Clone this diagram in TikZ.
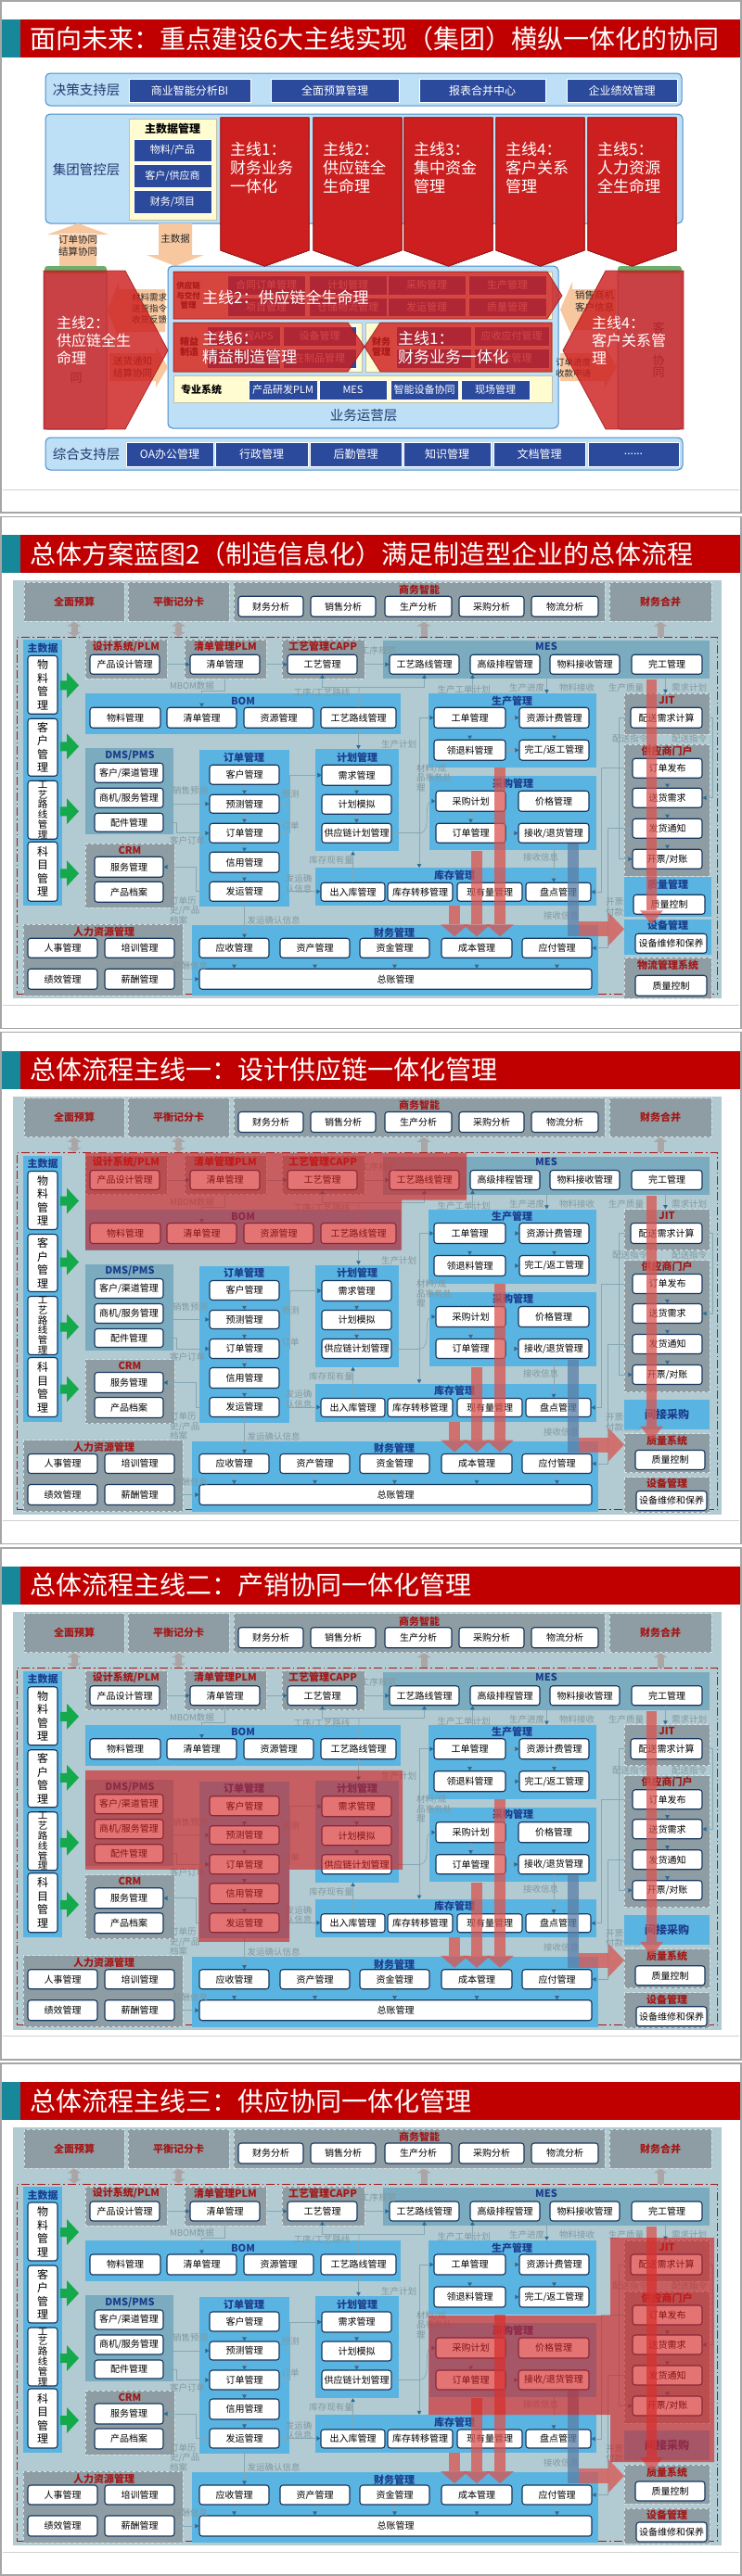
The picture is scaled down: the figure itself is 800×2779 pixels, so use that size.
\documentclass[tikz,border=0pt]{standalone}
\usepackage{fontspec}
\setmainfont{Noto Sans CJK SC}
\usetikzlibrary{arrows.meta}

% colours
\definecolor{tbred}{HTML}{C00000}
\definecolor{tbteal}{HTML}{17889A}
\definecolor{bpbg}{HTML}{B2CBD2}
\definecolor{pgray}{HTML}{8E9DA3}
\definecolor{pblue}{HTML}{5AB4E1}
\definecolor{pteal}{HTML}{7AABBE}
\definecolor{navy}{HTML}{17375E}
\definecolor{hblue}{HTML}{1B3C8C}
\definecolor{hred}{HTML}{A31616}
\definecolor{lbgray}{HTML}{82979F}
\definecolor{lnk}{HTML}{86A7B3}
\definecolor{ahd}{HTML}{2A6A96}
\definecolor{gblkc}{HTML}{ABA5A6}
\definecolor{grn}{HTML}{14A94A}
\definecolor{redband}{HTML}{D9534F}
\definecolor{blueband}{HTML}{5A7EA7}
\definecolor{hlred}{HTML}{D41E1E}
\definecolor{lyfill}{HTML}{BEE0F6}
\definecolor{lyline}{HTML}{4A8CC9}
\definecolor{lytext}{HTML}{1F3A70}
\definecolor{dkb}{HTML}{2C4A9C}
\definecolor{yel}{HTML}{FFFCD2}
\definecolor{peach}{HTML}{F7C8A0}
\definecolor{ovr}{HTML}{CD1F1F}
\definecolor{grtop}{HTML}{6DAE6D}

\tikzset{
  slideframe/.style={draw=black!35, line width=1.5pt},
  footline/.style={draw=black!18, line width=1pt},
  ttl/.style={anchor=west, inner sep=0pt, text=white, font=\fontsize{28}{30}\selectfont},
  wbox/.style={draw=navy, line width=1.1pt, fill=white, rounded corners=3pt, inner sep=0pt, font=\fontsize{10}{11}\selectfont},
  vbox/.style={wbox, align=center, font=\fontsize{12}{14.5}\selectfont},
  panel/.style={fill=pblue, inner sep=0pt},
  tpanel/.style={fill=pteal, inner sep=0pt},
  gpanel/.style={fill=pgray, draw=white!70!pgray, dashed, line width=.8pt, inner sep=0pt},
  mainb/.style={draw=hred, line width=1pt, dash pattern=on 9pt off 3pt on 1.5pt off 3pt, inner sep=0pt},
  hdblue/.style={font=\bfseries\fontsize{11}{12}\selectfont, text=hblue, inner sep=0pt},
  hdred/.style={font=\bfseries\fontsize{11}{12}\selectfont, text=hred, inner sep=0pt},
  lbl/.style={font=\fontsize{9.5}{10.5}\selectfont, text=lbgray, inner sep=0pt, align=center},
  link/.style={draw=lnk, line width=.7pt, -{Triangle[length=4pt,width=4.5pt,color=ahd]}},
  link0/.style={draw=lnk, line width=.7pt},
  gblk/.style={draw=gblkc, line width=7pt},
  bandr/.style={fill=redband, fill opacity=.75},
  bandb/.style={fill=blueband, fill opacity=.75},
  hlt/.style={fill=hlred, fill opacity=.62},
  % slide 1
  lyr/.style={fill=lyfill, draw=lyline, line width=1pt, rounded corners=5pt, inner sep=0pt},
  lylbl/.style={font=\fontsize{14.5}{15}\selectfont, text=lytext, inner sep=0pt},
  dbox/.style={fill=dkb, draw=white, line width=.5pt, text=white, inner sep=0pt, font=\fontsize{11}{12}\selectfont},
  ypan/.style={fill=yel, draw=yel!50!gray, line width=.6pt, inner sep=0pt},
  hdk/.style={font=\bfseries\fontsize{12}{13}\selectfont, text=black, inner sep=0pt},
  ptxt/.style={font=\fontsize{10.5}{13}\selectfont, text=black!85, align=center, inner sep=0pt},
  ovl/.style={fill=ovr, fill opacity=.82, draw=ovr!75!black, draw opacity=.8, line width=.8pt},
  bigw/.style={text=white, font=\fontsize{17}{20}\selectfont, align=left, anchor=north west, inner sep=0pt}
}

% box from corner (#3,#4) to corner (#5,#6)
\newcommand{\bx}[7][wbox]{\node[#1, minimum width={(#5-#3)*1pt}, minimum height={(#6-#4)*1pt}] (#2) at ({(#3+#5)/2},{(#4+#6)/2}) {#7};}
\newcommand{\garr}[1]{\fill[grn] (65,#1-5) -- (72,#1-5) -- (72,#1-14) -- (85,#1) -- (72,#1+14) -- (72,#1+5) -- (65,#1+5) -- cycle;}
\newcommand{\slidetop}[3]{%
  \draw[slideframe] (1,#2+1) rectangle (799,#2+553);
  \draw[footline] (3,#2+528) -- (797,#2+528);
  \fill[tbteal] (2,#2+21) rectangle (22,#2+62);
  \fill[tbred] (22,#2+21) rectangle (798,#2+62);
  \node[ttl] (#1) at (32,#2+41.5) {#3};}

% the blueprint, same on slides 2-5
\newcommand{\bpcommon}{%
  \fill[bpbg] (14,49) rectangle (778,500);
  % top row
  \bx[gpanel,hdred]{bud}{26}{51}{134}{93}{全面预算}
  \bx[gpanel,hdred]{bsc}{138}{51}{247}{93}{平衡记分卡}
  \bx[gpanel]{bi}{252}{51}{652}{93}{}
  \node[hdred] (bih) at (452,59) {商务智能};
  \bx{bi1}{257}{66}{327}{88}{财务分析}
  \bx{bi2}{335}{66}{405}{88}{销售分析}
  \bx{bi3}{415}{66}{487}{88}{生产分析}
  \bx{bi4}{495}{66}{565}{88}{采购分析}
  \bx{bi5}{573}{66}{645}{88}{物流分析}
  \bx[gpanel,hdred]{fc}{657}{51}{767}{93}{财务合并}
  \bx[mainb]{main}{18}{110}{773}{495}{}
  \draw[gblk,{Triangle[length=5pt,width=15pt]}-{Triangle[length=5pt,width=15pt]}] (bud.south) -- (bud.south |- main.north);
  \draw[gblk,{Triangle[length=5pt,width=15pt]}-{Triangle[length=5pt,width=15pt]}] (bsc.south) -- (bsc.south |- main.north);
  \draw[gblk,-{Triangle[length=5pt,width=15pt]}] ([xshift=5pt]bi.south |- main.north) -- ([xshift=5pt]bi.south);
  \draw[gblk,-{Triangle[length=5pt,width=15pt]}] (fc.south |- main.north) -- (fc.south);
  % master data
  \bx[panel]{md}{25}{113}{67}{400}{}
  \node[hdblue] (mdh) at (46,122) {主数据};
  \bx[vbox]{md1}{30}{130}{62}{193}{物\\料\\管\\理}
  \bx[vbox]{md2}{30}{198}{62}{260}{客\\户\\管\\理}
  \bx[vbox,font=\fontsize{10.5}{10.8}\selectfont]{md3}{30}{265}{62}{328}{工\\艺\\路\\线\\管\\理}
  \bx[vbox]{md4}{30}{331}{62}{395}{科\\目\\管\\理}
  \garr{162}\garr{228}\garr{298}\garr{365}
  % design row
  \bx[gpanel]{plm}{92}{113}{180}{155}{}
  \node[hdred] (plmh) at (136,120) {设计系统/PLM};
  \bx{pdm}{97}{129}{172}{150}{产品设计管理}
  \bx[gpanel]{lplm}{199}{113}{287}{155}{}
  \node[hdred] (lplmh) at (243,120) {清单管理PLM};
  \bx{lst}{205}{129}{280}{150}{清单管理}
  \bx[gpanel]{capp}{304}{113}{393}{155}{}
  \node[hdred] (capph) at (348,120) {工艺管理CAPP};
  \bx{gy}{310}{129}{385}{150}{工艺管理}
  \bx[tpanel]{mes}{413}{114}{765}{155}{}
  \node[hdblue] (mesh) at (589,120) {MES};
  \bx{m1}{420}{129}{495}{150}{工艺路线管理}
  \bx{m2}{507}{129}{582}{150}{高级排程管理}
  \bx{m3}{593}{129}{668}{150}{物料接收管理}
  \bx{m4}{681}{129}{757}{150}{完工管理}
  % BOM
  \bx[panel]{bom}{92}{171}{432}{215}{}
  \node[hdblue] (bomh) at (262,179) {BOM};
  \bx{b1}{97}{186}{173}{208}{物料管理}
  \bx{b2}{180}{186}{255}{208}{清单管理}
  \bx{b3}{263}{186}{338}{208}{资源管理}
  \bx{b4}{346}{186}{427}{208}{工艺路线管理}
  % production
  \bx[panel]{prd}{462}{171}{643}{251}{}
  \node[hdblue] (prdh) at (552,179) {生产管理};
  \bx{p1}{468}{186}{545}{208}{工单管理}
  \bx{p2}{560}{186}{635}{208}{资源计费管理}
  \bx{p3}{468}{221}{545}{243}{领退料管理}
  \bx{p4}{560}{221}{635}{243}{完工/返工管理}
  % JIT and supplier portal
  \bx[gpanel]{jit}{673}{171}{765}{215}{}
  \node[hdred] (jith) at (719,178) {JIT};
  \bx{j1}{680}{186}{757}{208}{配送需求计算}
  \bx[gpanel]{spt}{673}{226}{765}{368}{}
  \node[hdred] (spth) at (719,233) {供应商门户};
  \bx{s1}{682}{241}{757}{262}{订单发布}
  \bx{s2}{682}{273}{757}{294}{送货需求}
  \bx{s3}{682}{306}{757}{327}{发货通知}
  \bx{s4}{682}{339}{757}{360}{开票/对账}
  % DMS / CRM
  \bx[tpanel]{dms}{92}{230}{187}{323}{}
  \node[hdblue] (dmsh) at (140,238) {DMS/PMS};
  \bx{d1}{102}{246}{176}{267}{客户/渠道管理}
  \bx{d2}{102}{273}{176}{294}{商机/服务管理}
  \bx{d3}{102}{300}{176}{320}{配件管理}
  \bx[gpanel]{crm}{92}{333}{188}{402}{}
  \node[hdred] (crmh) at (140,340) {CRM};
  \bx{c1}{102}{347}{176}{369}{服务管理}
  \bx{c2}{102}{374}{176}{396}{产品档案}
  % orders
  \bx[panel]{ord}{215}{232}{312}{401}{}
  \node[hdblue] (ordh) at (263,240) {订单管理};
  \bx{o1}{226}{248}{301}{269}{客户管理}
  \bx{o2}{226}{280}{301}{300}{预测管理}
  \bx{o3}{226}{311}{301}{332}{订单管理}
  \bx{o4}{226}{342}{301}{364}{信用管理}
  \bx{o5}{226}{374}{301}{395}{发运管理}
  % planning
  \bx[panel]{pln}{340}{231}{430}{341}{}
  \node[hdblue] (plnh) at (385,240) {计划管理};
  \bx{q1}{347}{248}{422}{270}{需求管理}
  \bx{q2}{347}{280}{422}{301}{计划模拟}
  \bx{q3}{347}{311}{422}{332}{供应链计划管理}
  % purchasing
  \bx[panel]{pur}{463}{260}{643}{340}{}
  \node[hdblue] (purh) at (553,268) {采购管理};
  \bx{u1}{470}{276}{545}{298}{采购计划}
  \bx{u2}{559}{276}{635}{298}{价格管理}
  \bx{u3}{470}{311}{545}{332}{订单管理}
  \bx{u4}{559}{311}{635}{332}{接收/退货管理}
  % inventory
  \bx[panel]{inv}{340}{359}{643}{400}{}
  \node[hdblue] (invh) at (490,367) {库存管理};
  \bx{i1}{346}{375}{415}{395}{出入库管理}
  \bx{i2}{418}{375}{488}{395}{库存转移管理}
  \bx{i3}{493}{375}{563}{395}{现有量管理}
  \bx{i4}{567}{375}{637}{395}{盘点管理}
  % HR and finance
  \bx[gpanel]{hr}{25}{420}{197}{497}{}
  \node[hdred] (hrh) at (112,428) {人力资源管理};
  \bx{h1}{30}{435}{105}{456}{人事管理}
  \bx{h2}{113}{435}{188}{456}{培训管理}
  \bx{h3}{30}{468}{105}{490}{绩效管理}
  \bx{h4}{113}{468}{188}{490}{薪酬管理}
  \bx[panel]{fin}{207}{421}{645}{497}{}
  \node[hdblue] (finh) at (425,429) {财务管理};
  \bx{f1}{215}{435}{290}{456}{应收管理}
  \bx{f2}{302}{435}{377}{456}{资产管理}
  \bx{f3}{388}{435}{463}{456}{资金管理}
  \bx{f4}{476}{435}{552}{456}{成本管理}
  \bx{f5}{563}{435}{638}{456}{应付管理}
  \bx{f6}{215}{468}{638}{490}{总账管理}
  % connectors
  \draw[link] (pdm) -- (lst);
  \draw[link] (lst) -- (gy);
  \draw[link] (gy) -- (m1);
  \draw[link] (lst.south) -- ++(0,18) -| (b2.north);
  \coordinate (gj) at (387,164);
  \draw[link0] (b4.north) -- (gj);
  \draw[link] (gj) -| (gy.south);
  \draw[link] (gj) -| (m1.south);
  \draw[link] (b4.south) -- (b4.south |- pln.north);
  \draw[link] ([xshift=3pt]m2.south west |- prd.north) -- ([xshift=3pt]m2.south west);
  \draw[link] ([xshift=-3pt]m3.south west |- mes.south) -- ([xshift=-3pt]m3.south west |- prd.north);
  \draw[link] ([xshift=37pt]m4.south west) -- ([xshift=37pt]m4.south west |- jit.north);
  \draw[link] (p1) -- (p2); \draw[link] (p1) -- (p3);
  \draw[link] (p2) -- (p4); \draw[link] (p3) -- (p4);
  \draw[link] (q1) -- (q2); \draw[link] (q2) -- (q3);
  \coordinate (pj) at (452,321.5);
  \draw[link0] (q3.east) -- (pj);
  \draw[link] (pj) |- (p1.west);
  \draw[link] (pj) to[out=0,in=180] (u1.west);
  \draw[link] (pj) -- (pj |- inv.north);
  \foreach \a/\b in {o1/o2,o2/o3,o3/o4,o4/o5} \draw[link] (\a) -- (\b);
  \draw[link] (d2.east) -- ++(10,0) |- (o2.west);
  \draw[link] (d3.east) -- ++(14,0) |- (o3.west);
  \draw[link] (o5.west) -- ++(-14,0) |- (c1.east);
  \draw[link] (o2.east) -- ++(11,0) |- (q1.west);
  \draw[link] (o3.east) -- ++(11,0) |- (q1.west);
  \draw[link] (o5.east) -- (o5.east -| i1.west);
  \draw[link] (o5.south) -- (o5.south |- f1.north);
  \draw[link] (i1.north) -- (i1.north |- pln.south);
  \draw[link] (u1) -- (u3); \draw[link] (u3) -- (u4);
  \draw[link] (u4.south) -- (u4.south |- i4.north);
  \foreach \a/\b in {s1/s2,s2/s3,s3/s4} \draw[link] (\a) -- (\b);
  \draw[link] (j1.west) -- ++(-12,0) |- (s4.west);
  \draw[link] (j1.east) -- ++(11,0) |- (s2.east);
  \draw[link] (s1.west) -- ++(-33,0) |- (i4.east);
  \draw[link] (s3.west) -- ++(-26,0) |- (f5.east);
  \draw[link] (h4) -- (f6);
  \foreach \a in {f1,f2,f3,f4,f5} \draw[link] (\a) -- (\a |- f6.north);
  % connector labels
  \node[lbl] (l1) at (408,125) {工序规范};
  \node[lbl] (l2) at (207,163) {MBOM数据};
  \node[lbl] (l3) at (347,170) {工序/工艺路线};
  \node[lbl] (l4) at (500,167) {生产工单计划};
  \node[lbl] (l5) at (568,165) {生产进度};
  \node[lbl] (l6) at (622,165) {物料接收};
  \node[lbl] (l7) at (675,165) {生产质量};
  \node[lbl] (l8) at (743,165) {需求计划};
  \node[lbl] (l9) at (679,220) {配送指令};
  \node[lbl] (l10) at (743,220) {配送指令};
  \node[lbl] (l11) at (430,226) {生产计划};
  \node[lbl,align=left,anchor=north west] (l12) at (449,247) {材料/成\\品事务处\\理};
  \node[lbl] (l13) at (205,276) {销售预测};
  \node[lbl] (l14) at (202,330) {客户订单};
  \node[lbl,align=left,anchor=north west] (l15) at (183,390) {订单历\\史/产品\\档案};
  \node[lbl] (l16) at (313,280) {预测};
  \node[lbl] (l17) at (313,314) {订单};
  \node[lbl,align=left] (l18) at (322,376) {发运确\\认信息};
  \node[lbl] (l19) at (295,416) {发运确认信息};
  \node[lbl] (l20) at (357,351) {库存现有量};
  \node[lbl] (l21) at (583,348) {接收信息};
  \node[lbl,align=left] (l22) at (672,401) {开票信息\\付款信息};
  \node[lbl] (l23) at (605,411) {接收信息};
  \node[lbl] (l24) at (205,465) {薪酬信息};
}
% bottom right, slide 2
\newcommand{\bpright}{%
  \bx[panel]{qm}{673}{369}{767}{412}{}
  \node[hdblue] (qmh) at (720,377) {质量管理};
  \bx{qm1}{683}{388}{760}{409}{质量控制}
  \bx[panel]{em}{673}{415}{767}{453}{}
  \node[hdblue] (emh) at (720,421) {设备管理};
  \bx{em1}{685}{430}{762}{451}{设备维修和保养}
  \bx[gpanel]{lg}{673}{456}{767}{500}{}
  \node[hdred] (lgh) at (720,464) {物流管理系统};
  \bx{lg1}{685}{475}{762}{497}{质量控制}
}
% bottom right, slides 3-5
\newcommand{\bprightb}{%
  \bx[panel,hdblue,font=\bfseries\fontsize{12}{13}\selectfont]{ip}{673}{376}{765}{408}{间接采购}
  \bx[gpanel]{qs}{673}{413}{765}{455}{}
  \node[hdred] (qsh) at (719,421) {质量系统};
  \bx{qs1}{685}{431}{760}{452}{质量控制}
  \bx[gpanel]{eq}{673}{460}{765}{498}{}
  \node[hdred] (eqh) at (719,467) {设备管理};
  \bx{eq1}{686}{475}{762}{496}{设备维修和保养}
}
% thick flow arrows
\newcommand{\bpbands}{%
  \fill[bandr] (697,156) rectangle (708,405);
  \fill[bandr] (690,405) -- (715,405) -- (702.5,420) -- cycle;
  \fill[bandr] (533,251) rectangle (545,420);
  \fill[bandr] (524,420) -- (554,420) -- (539,433) -- cycle;
  \fill[bandr] (508,341) rectangle (520,420);
  \fill[bandr] (499,420) -- (529,420) -- (514,433) -- cycle;
  \fill[bandr] (484,400) rectangle (496,420);
  \fill[bandr] (475,420) -- (505,420) -- (490,433) -- cycle;
  \fill[bandb] (612,333) rectangle (624,433);
  \fill[bandr] (624,417) rectangle (656,433);
  \fill[bandr] (656,407) -- (673,425) -- (656,443) -- cycle;
}

\begin{document}
\begin{tikzpicture}[x=1pt,y=-1pt]
\useasboundingbox (0,0) rectangle (800,2779);
\fill[white] (0,0) rectangle (800,2779);

% ---------- slide 1
\slidetop{t1}{0}{面向未来：重点建设6大主线实现（集团）横纵一体化的协同}
% decision layer
\bx[lyr]{dec}{49}{79}{735}{114}{}
\node[lylbl] (decl) at (93,97) {决策支持层};
\bx[dbox,font=\fontsize{12}{13}\selectfont]{dec1}{139}{85}{270}{110}{商业智能分析BI}
\bx[dbox,font=\fontsize{12}{13}\selectfont]{dec2}{292}{85}{430}{110}{全面预算管理}
\bx[dbox,font=\fontsize{12}{13}\selectfont]{dec3}{452}{85}{588}{110}{报表合并中心}
\bx[dbox,font=\fontsize{12}{13}\selectfont]{dec4}{611}{85}{730}{110}{企业绩效管理}
% group layer
\bx[lyr]{grp}{49}{123}{736}{241}{}
\node[lylbl] (grpl) at (93,183) {集团管控层};
\bx[ypan]{mdm}{139}{128}{233}{237}{}
\node[hdk] (mdmh) at (186,139) {主数据管理};
\bx[dbox]{mdm1}{144}{150}{228}{174}{物料/产品}
\bx[dbox]{mdm2}{144}{177}{228}{202}{客户/供应商}
\bx[dbox]{mdm3}{144}{205}{228}{230}{财务/项目}
\foreach \xa/\hd/\rc [count=\i] in {238/集团财务核算/财务报表,338/集中采购/采购合同管理,436/集中资金管理/资金使用跟踪,535/市场管理/{市场分析/预测},634/人力资源管理/{招聘/培训/绩效}}{
  \bx[ypan]{col\i}{\xa}{128}{\xa+95}{237}{}
  \node[hdk] (colh\i) at (\xa+47.5,139) {\hd};
  \bx[dbox]{cola\i}{\xa+5}{150}{\xa+90}{174}{}
  \bx[dbox]{colb\i}{\xa+5}{177}{\xa+90}{202}{}
  \bx[dbox]{colc\i}{\xa+5}{205}{\xa+90}{230}{\rc}
  \fill[peach] (\xa+26,252) rectangle (\xa+69,276);
  \fill[peach] (\xa+14,252) -- (\xa+47.5,241) -- (\xa+81,252) -- cycle;
}
\node[ptxt] (cq1) at (285,259) {核算口径};
\node[ptxt] (cq2) at (385,262) {采购需求\\集采协议\\执行反馈};
\node[ptxt] (cq3) at (484,263) {资金预测\\收支反馈};
\node[ptxt] (cq4) at (582,263) {客户信息\\客户行为};
\node[ptxt] (cq5) at (681,264) {会计核算\\资金结算};
% peach arrows at the left
\fill[peach] (64,252) rectangle (104,287) (51,253) -- (84,241) -- (117,253) -- cycle;
\node[ptxt] (pa5) at (84,265) {订单协同\\结算协同};
\fill[peach] (171,241) rectangle (207,275) (158,275) -- (220,275) -- (189,287) -- cycle;
\node[ptxt] (pa6) at (189,258) {主数据};
% business layer
\bx[lyr]{ops}{181}{287}{602}{462}{}
\node[lylbl] (opsl) at (392,448) {业务运营层};
\bx[ypan]{scm}{187}{293}{595}{344}{}
\node[hdk,align=center,font=\bfseries\fontsize{8.5}{10.5}\selectfont] (scml) at (203,319) {供应链\\与交付\\管理};
\foreach \xa/\ta/\tb [count=\i] in {245/合同订单管理/项目管理,333/计划管理/仓储物流管理,418/采购管理/发运管理,505/生产管理/质量管理}{
  \bx[dbox]{sa\i}{\xa}{297}{\xa+84}{318}{\ta}
  \bx[dbox]{sb\i}{\xa}{321}{\xa+84}{341}{\tb}
}
\bx[ypan]{lean}{187}{348}{390}{401}{}
\node[hdk,align=center,font=\bfseries\fontsize{10}{11.5}\selectfont] (leanl) at (204,374) {精益\\制造};
\bx[dbox]{le1}{223}{352}{302}{373}{高级排程APS}
\bx[dbox]{le2}{305}{352}{384}{373}{设备管理}
\bx[dbox]{le3}{223}{376}{302}{397}{}
\bx[dbox]{le4}{305}{376}{384}{397}{在制品管理}
\bx[ypan]{fnp}{394}{348}{595}{401}{}
\node[hdk,align=center,font=\bfseries\fontsize{10}{11.5}\selectfont] (fnpl) at (411,374) {财务\\管理};
\bx[dbox]{fn1}{427}{352}{508}{373}{}
\bx[dbox]{fn2}{511}{352}{592}{373}{应收应付管理}
\bx[dbox]{fn3}{427}{376}{508}{397}{}
\bx[dbox]{fn4}{511}{376}{592}{397}{资金管理}
\bx[ypan]{pro}{187}{405}{595}{434}{}
\node[hdk,font=\bfseries\fontsize{11}{12}\selectfont] (prol) at (217,420) {专业系统};
\bx[dbox]{pro1}{268}{410}{342}{431}{产品研发PLM}
\bx[dbox]{pro2}{344}{410}{417}{431}{MES}
\bx[dbox]{pro3}{421}{410}{494}{431}{智能设备协同}
\bx[dbox]{pro4}{497}{410}{571}{431}{现场管理}
% supplier and customer sides
\bx[lyr,rounded corners=3pt]{spl}{48}{290}{115}{463}{}
\fill[grtop,rounded corners=3pt] (48,287) rectangle (115,295);
\node[lylbl,font=\fontsize{13}{15}\selectfont] (spll) at (82,408) {同};
\bx[lyr,rounded corners=3pt]{cus}{666}{290}{735}{463}{}
\fill[grtop,rounded corners=3pt] (666,287) rectangle (735,295);
\node[lylbl,font=\fontsize{13}{15}\selectfont] (cusl) at (710,353) {客};
\node[lylbl,align=center,font=\fontsize{13}{13}\selectfont] (cusl2) at (710,395) {协\\同};
\fill[peach] (128,312) rectangle (178,358) (128,304) -- (128,366) -- (116,335) -- cycle;
\node[ptxt,font=\fontsize{9.5}{12}\selectfont] (pa1) at (161,333) {材料需求\\送货指令\\收货反馈};
\fill[peach] (118,381) rectangle (168,411) (168,374) -- (168,418) -- (181,396) -- cycle;
\node[ptxt] (pa2) at (143,396) {送货通知\\结算协同};
\fill[peach] (617,312) rectangle (664,356) (617,304) -- (617,364) -- (604,334) -- cycle;
\node[ptxt] (pa3) at (641,325) {销售商机\\客户信息};
\fill[peach] (604,381) rectangle (652,411) (652,374) -- (652,418) -- (665,396) -- cycle;
\node[ptxt,font=\fontsize{9.5}{12}\selectfont] (pa4) at (618,397) {订单进度\\收款申请};
% support layer
\bx[lyr]{sup}{49}{472}{736}{507}{}
\node[lylbl] (supl) at (93,490) {综合支持层};
\foreach \xa/\xb/\tx [count=\i] in {136/230/OA办公管理,232/332/行政管理,334/433/后勤管理,435/529/知识管理,532/631/文档管理}
  \bx[dbox,font=\fontsize{12}{13}\selectfont]{spp\i}{\xa}{477}{\xb}{503}{\tx}
\bx[dbox,font=\fontsize{12}{13}\selectfont]{spp6}{634}{477}{732}{503}{......}
% the six main lines
\foreach \xa in {238,338,436,535,634}
  \fill[ovl] (\xa,127) -- (\xa+95,127) -- (\xa+95,270) -- (\xa+47.5,287) -- (\xa,270) -- cycle;
\fill[ovl] (47,292) -- (135,292) -- (181,378) -- (135,463) -- (47,463) -- cycle;
\fill[ovl] (607,378) -- (653,292) -- (737,292) -- (737,463) -- (653,463) -- cycle;
\fill[ovl] (187,293) -- (590,293) -- (606,319) -- (590,344) -- (187,344) -- cycle;
\fill[ovl] (187,348) -- (375,348) -- (393,374) -- (375,401) -- (187,401) -- cycle;
\fill[ovl] (595,348) -- (410,348) -- (393,374) -- (410,401) -- (595,401) -- cycle;
\foreach \xa/\tx [count=\i] in {238/{财务业务\\一体化},338/{供应链全\\生命理},436/{集中资金\\管理},535/{客户关系\\管理},634/{人力资源\\全生命理}}
  \node[bigw] (ml\i) at (\xa+10,153) {主线\i：\\\tx};
\node[bigw,font=\fontsize{16}{19}\selectfont] (ml6) at (61,341) {主线2：\\供应链全生\\命理};
\node[bigw,font=\fontsize{16}{19}\selectfont] (ml7) at (638,341) {主线4：\\客户关系管\\理};
\node[bigw,anchor=west] (ml8) at (218,321) {主线2：供应链全生命理};
\node[bigw] (ml9) at (218,357) {主线6：\\精益制造管理};
\node[bigw] (ml10) at (429,357) {主线1：\\财务业务一体化};

% ---------- slide 2
\slidetop{t2}{556.25}{总体方案蓝图2（制造信息化）满足制造型企业的总体流程}
\begin{scope}[shift={(0,577.25)}, name prefix=s2-]
  \bpcommon
  \bpright
  \bpbands
\end{scope}

% ---------- slide 3
\slidetop{t3}{1112.5}{总体流程主线一：设计供应链一体化管理}
\begin{scope}[shift={(0,1133.5)}, name prefix=s3-]
  \bpcommon
  \bprightb
  \bpbands
  \fill[hlt] (92,110) -- (503,110) -- (503,161) -- (433,161) -- (433,215) -- (92,215) -- cycle;
\end{scope}

% ---------- slide 4
\slidetop{t4}{1668.75}{总体流程主线二：产销协同一体化管理}
\begin{scope}[shift={(0,1689.75)}, name prefix=s4-]
  \bpcommon
  \bprightb
  \bpbands
  \fill[hlt] (92,220) -- (434,220) -- (434,327) -- (312,327) -- (312,405) -- (214,405) -- (214,327) -- (92,327) -- cycle;
\end{scope}

% ---------- slide 5
\slidetop{t5}{2225}{总体流程主线三：供应协同一体化管理}
\begin{scope}[shift={(0,2246)}, name prefix=s5-]
  \bpcommon
  \bprightb
  \bpbands
  \fill[hlt] (462,252) -- (658,252) -- (658,168) -- (770,168) -- (770,410) -- (658,410) -- (658,359) -- (462,359) -- cycle;
\end{scope}
\end{tikzpicture}
\end{document}
